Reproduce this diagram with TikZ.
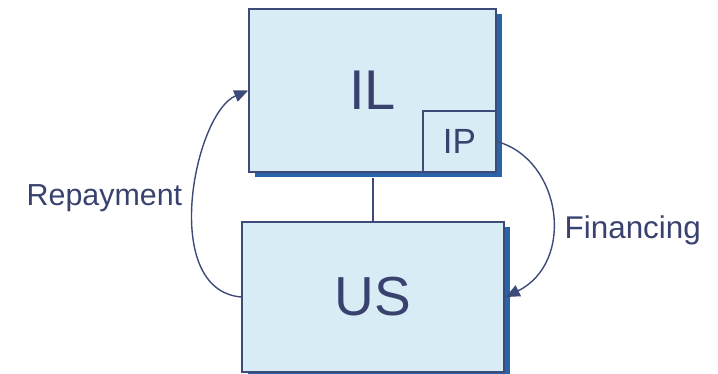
\documentclass[tikz,border=0pt]{standalone}
\usepackage{fontspec}
\setmainfont{Liberation Sans}
\usetikzlibrary{arrows.meta}
\definecolor{boxfill}{HTML}{D7ECF5}
\definecolor{boxline}{HTML}{3E4A78}
\definecolor{shadowblue}{HTML}{2A64A8}
\definecolor{ink}{HTML}{39426F}
\tikzset{
  entity/.style={draw=boxline, line width=1.6pt, fill=boxfill, inner sep=0pt, text=ink},
  flow/.style={draw=boxline, line width=1.4pt, -{Triangle[length=14pt,width=12pt]}},
  caption/.style={text=ink, inner sep=0pt, anchor=base west}
}
\begin{document}
\begin{tikzpicture}[x=1pt,y=-1pt]
\useasboundingbox (0,0) rectangle (718,374);
% drop shadows behind the boxes
\fill[shadowblue] (254.5,14.5) rectangle (501.5,177.5);
\fill[shadowblue] (247.5,227.5) rectangle (509.5,380);
% link between the two units
\node[minimum width=0pt, inner sep=0pt] (ilbot) at (373,177) {};
\node[minimum width=0pt, inner sep=0pt] (ustop) at (373,222) {};
\draw[boxline, line width=1.4pt] (ilbot) -- (ustop);
% boxes
\node[entity, minimum width=247pt, minimum height=163pt, font=\fontsize{56}{60}\selectfont] (il) at (372.5,90.5) {IL};
\node[entity, minimum width=73pt, minimum height=61pt, font=\fontsize{35}{40}\selectfont] (ip) at (459.5,141.5) {IP};
\node[entity, minimum width=262pt, minimum height=150pt, font=\fontsize{55}{60}\selectfont] (us) at (373,297) {US};
% flows
\draw[flow] (us.west) .. controls +(-82,-7) and +(-54,23) .. (il.west);
\draw[flow] (ip.east) .. controls +(65,18) and +(70,-35) .. ([xshift=1pt]us.east);
% labels
\node[caption, font=\fontsize{30.4}{36}\selectfont] (rep) at (26.5,206) {Repayment};
\node[caption, font=\fontsize{31.4}{36}\selectfont] (fin) at (564.5,239) {Financing};
\end{tikzpicture}
\end{document}
